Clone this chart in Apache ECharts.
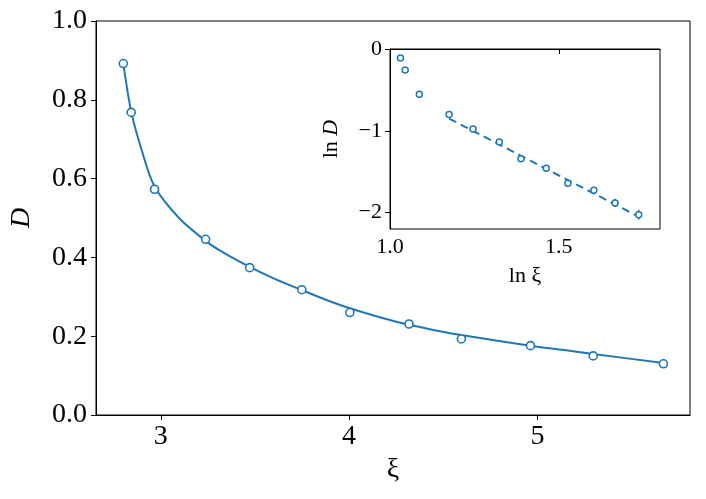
<!DOCTYPE html>
<html>
<head>
<meta charset="utf-8">
<script src="https://cdn.jsdelivr.net/npm/echarts@6/dist/echarts.min.js"></script>
<style>
html, body { margin: 0; background: #fff; }
#chart { width: 706px; height: 499px; }
</style>
</head>
<body>
<div id="chart"></div>
<script>
// main panel: measured points
var xiVals = [2.801, 2.843, 2.967, 3.238, 3.472, 3.749, 4.004, 4.318, 4.596, 4.963, 5.296, 5.669];
var dVals = [0.892, 0.768, 0.573, 0.446, 0.374, 0.318, 0.260, 0.231, 0.193, 0.176, 0.150, 0.130];
// main panel: fitted curve
var fitXi = [2.801, 2.843, 2.900, 2.967, 3.097, 3.238, 3.326, 3.472, 3.608, 3.749, 3.890, 4.004, 4.172, 4.318, 4.489, 4.594, 4.963, 5.141, 5.296, 5.669];
var fitD = [0.892, 0.770, 0.670, 0.580, 0.500, 0.442, 0.414, 0.376, 0.345, 0.317, 0.290, 0.271, 0.247, 0.229, 0.212, 0.203, 0.176, 0.165, 0.155, 0.132];
// inset: log-log points with error bars
var lnXi = [1.031, 1.045, 1.087, 1.175, 1.246, 1.324, 1.388, 1.463, 1.527, 1.604, 1.667, 1.737];
var lnD = [-0.110, -0.258, -0.552, -0.801, -0.978, -1.137, -1.341, -1.456, -1.640, -1.726, -1.881, -2.025];
var lnDErr = [0, 0, 0, 0.02, 0.02, 0.03, 0.03, 0.03, 0.04, 0.04, 0.05, 0.06];
// inset: dashed linear fit
var fitLnXi = [1.175, 1.737];
var fitLnD = [-0.85, -2.05];
// tick labels
var mainXTicks = [3, 4, 5];
var mainYTicks = [0, 0.2, 0.4, 0.6, 0.8, 1.0];
var insetXTicks = [1.0, 1.5];
var insetYTicks = [-2, -1, 0];

var blue = '#1f77b4';
var serif = 'Liberation Serif';

function pairs(a, b) {
    var out = [];
    for (var i = 0; i < a.length; i++) out.push([a[i], b[i]]);
    return out;
}
function minusFmt(v) {
    return v < 0 ? '\u2212' + Math.abs(v) : String(v);
}

var axisLineBlack = { show: true, lineStyle: { color: '#000', width: 1 } };

var chart = echarts.init(document.getElementById('chart'));

var errData = [];
for (var i = 0; i < lnXi.length; i++) {
    if (lnDErr[i] > 0) errData.push([lnXi[i], lnD[i] - lnDErr[i], lnD[i] + lnDErr[i]]);
}

var option = {
    backgroundColor: '#fff',
    animation: false,
    textStyle: { fontFamily: serif },
    grid: [
        { left: 93, right: 16, top: 21, bottom: 84, show: true, borderColor: '#000', borderWidth: 1, backgroundColor: 'transparent' },
        { left: 390, right: 46, top: 49, bottom: 270, show: true, borderColor: '#000', borderWidth: 1, backgroundColor: '#fff', z: 5 }
    ],
    xAxis: [
        {
            gridIndex: 0, type: 'value', min: 2.656, max: 5.81,
            axisLine: axisLineBlack, splitLine: { show: false },
            axisTick: { show: true, length: 5, customValues: mainXTicks, lineStyle: { color: '#000' } },
            axisLabel: { customValues: mainXTicks, fontFamily: serif, fontSize: 28, color: '#000', margin: 8 },
            name: '\u03be', nameLocation: 'middle', nameGap: 40,
            nameTextStyle: { fontFamily: serif, fontSize: 28, color: '#000' }
        },
        {
            gridIndex: 1, type: 'value', min: 1.0, max: 1.8,
            axisLine: axisLineBlack, splitLine: { show: false },
            axisTick: { show: true, length: 5, customValues: insetXTicks, lineStyle: { color: '#000' } },
            axisLabel: { customValues: insetXTicks, fontFamily: serif, fontSize: 22, color: '#000', margin: 7,
                formatter: function (v) { return v.toFixed(1); } },
            name: 'ln \u03be', nameLocation: 'middle', nameGap: 36,
            nameTextStyle: { fontFamily: serif, fontSize: 22, color: '#000' },
            z: 6
        }
    ],
    yAxis: [
        {
            gridIndex: 0, type: 'value', min: 0, max: 1,
            axisLine: axisLineBlack, splitLine: { show: false },
            axisTick: { show: true, length: 5, customValues: mainYTicks, lineStyle: { color: '#000' } },
            axisLabel: { customValues: mainYTicks, fontFamily: serif, fontSize: 28, color: '#000', margin: 9,
                formatter: function (v) { return v.toFixed(1); } },
            name: 'D', nameLocation: 'middle', nameGap: 60, nameRotate: 90,
            nameTextStyle: { fontFamily: serif, fontSize: 28, fontStyle: 'italic', color: '#000' }
        },
        {
            gridIndex: 1, type: 'value', min: -2.2, max: 0,
            axisLine: axisLineBlack, splitLine: { show: false },
            axisTick: { show: true, length: 5, customValues: insetYTicks, lineStyle: { color: '#000' } },
            axisLabel: { customValues: insetYTicks, fontFamily: serif, fontSize: 22, color: '#000', margin: 8,
                formatter: minusFmt },
            name: '{a|ln }{b|D}', nameLocation: 'middle', nameGap: 48, nameRotate: 90,
            nameTextStyle: {
                color: '#000', fontFamily: serif, fontSize: 22,
                rich: {
                    a: { fontFamily: serif, fontSize: 22, color: '#000' },
                    b: { fontFamily: serif, fontSize: 22, fontStyle: 'italic', color: '#000' }
                }
            },
            z: 6
        }
    ],
    series: [
        {
            name: 'fit', type: 'line', xAxisIndex: 0, yAxisIndex: 0,
            data: pairs(fitXi, fitD), smooth: 0.3, showSymbol: false,
            lineStyle: { color: blue, width: 2 }, z: 2
        },
        {
            name: 'D', type: 'scatter', xAxisIndex: 0, yAxisIndex: 0,
            data: pairs(xiVals, dVals), symbol: 'circle', symbolSize: 8,
            itemStyle: { color: '#fff', borderColor: blue, borderWidth: 1.6, opacity: 1 }, z: 3
        },
        {
            name: 'lnfit', type: 'line', xAxisIndex: 1, yAxisIndex: 1,
            data: pairs(fitLnXi, fitLnD), showSymbol: false,
            lineStyle: { color: blue, width: 2, type: [8, 5] }, z: 7
        },
        {
            name: 'err', type: 'custom', xAxisIndex: 1, yAxisIndex: 1,
            data: errData, z: 7,
            renderItem: function (params, api) {
                var lo = api.coord([api.value(0), api.value(1)]);
                var hi = api.coord([api.value(0), api.value(2)]);
                return {
                    type: 'line',
                    shape: { x1: lo[0], y1: lo[1], x2: hi[0], y2: hi[1] },
                    style: { stroke: blue, lineWidth: 1.5 }
                };
            }
        },
        {
            name: 'lnD', type: 'scatter', xAxisIndex: 1, yAxisIndex: 1,
            data: pairs(lnXi, lnD), symbol: 'circle', symbolSize: 6,
            itemStyle: { color: '#fff', borderColor: blue, borderWidth: 1.5, opacity: 1 }, z: 8
        }
    ]
};
chart.setOption(option);
</script>
</body>
</html>
